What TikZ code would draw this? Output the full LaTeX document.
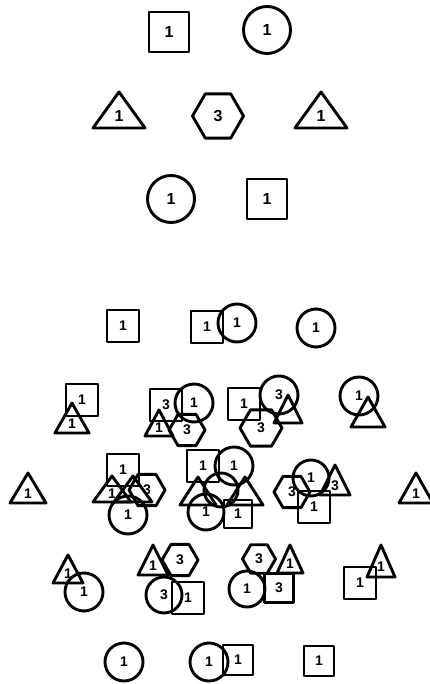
\documentclass[tikz,border=0pt]{standalone}
\usepackage{fontspec}
\setmainfont{Liberation Sans}
\usetikzlibrary{shapes.geometric}
\tikzset{
  ln/.style={line width=2.9pt, line join=round},
  lbl/.style={font=\bfseries\fontsize{14}{14}\selectfont, inner sep=0pt},
  lblT/.style={font=\bfseries\fontsize{16}{16}\selectfont, inner sep=0pt},
  sq/.style={lbl, draw, ln, rectangle, minimum size=32pt},
  ci/.style={lbl, draw, ln, circle, minimum size=38pt},
  hx/.style={lbl, draw, ln, regular polygon, regular polygon sides=6, minimum size=36pt},
  sqT/.style={lblT, draw, ln, rectangle, minimum size=40pt},
  ciT/.style={lblT, draw, ln, circle, minimum size=47pt},
  hxT/.style={lblT, draw, ln, regular polygon, regular polygon sides=6, minimum size=51pt},
}
% name, x, y, half width, half height, label, label style
\newcommand\mytri[7][lbl]{%
  \draw[ln] ({#3-#5},{#4+#6}) -- ({#3},{#4-#6}) -- ({#3+#5},{#4+#6}) -- cycle;
  \node[#1] (#2) at ({#3},{#4+0.35*#6}) {#7};
}
\begin{document}
\begin{tikzpicture}[x=1pt,y=-1pt]
\useasboundingbox (0,0) rectangle (429,684);
% ---- top pattern ----
\node[sqT] (s1) at (169,32) {1};
\node[ciT] (o1) at (267,30) {1};
\mytri[lblT]{t1}{119}{110}{26}{18}{1}
\node[hxT] (h1) at (218,116) {3};
\mytri[lblT]{t2}{321}{110}{26}{18}{1}
\node[ciT] (o2) at (171,199) {1};
\node[sqT] (s2) at (267,199) {1};
% ---- row A ----
\node[sq] (a1) at (123,326) {1};
\node[sq] (a2) at (207,327) {1};
\node[ci] (a3) at (237,323) {1};
\node[ci] (a4) at (316,328) {1};
% ---- row B ----
\node[sq] (b1) at (82,400) {1};
\mytri{b2}{72}{418}{17}{15}{1}
\node[sq] (b3) at (166,405) {3};
\node[ci] (b4) at (194,403) {1};
\mytri{b5}{159}{423}{14}{13}{1}
\node[hx] (b6) at (187,430) {3};
\node[sq] (b7) at (244,404) {1};
\node[ci] (b8) at (279,395) {3};
\mytri{b9}{288}{409}{14}{14}{}
\node[hx,minimum size=42pt] (b10) at (261,428) {3};
\node[ci] (b11) at (359,396) {1};
\mytri{b12}{368}{412}{17}{15}{}
% ---- row C ----
\mytri{c1}{28}{488}{18}{15}{1}
\node[sq] (c2) at (123,470) {1};
\mytri{c3}{112}{489}{19}{13}{1}
\mytri{c4}{133}{489}{19}{13}{}
\node[hx] (c5) at (147,490) {3};
\node[ci] (c6) at (128,515) {1};
\node[sq] (c7) at (203,466) {1};
\node[ci] (c8) at (234,466) {1};
\mytri{c9}{198}{491}{18}{14}{}
\mytri{c10}{245}{491}{18}{14}{}
\node[ci,minimum size=34pt] (c11) at (221,490) {};
\node[ci,minimum size=36pt] (c12) at (206,512) {1};
\node[sq,minimum size=28pt] (c13) at (238,514) {1};
\node[hx] (c14) at (292,492) {3};
\node[ci,minimum size=36pt] (c15) at (311,478) {1};
\mytri{c16}{335}{480}{15}{15}{3}
\node[sq] (c17) at (314,507) {1};
\mytri{c18}{416}{488}{17}{15}{1}
% ---- row D ----
\mytri{d1}{68}{569}{15}{14}{1}
\node[ci] (d2) at (84,592) {1};
\mytri{d3}{153}{560}{15}{15}{1}
\node[hx] (d4) at (180,560) {3};
\node[ci,minimum size=36pt] (d5) at (164,595) {3};
\node[sq] (d6) at (188,598) {1};
\node[hx,minimum size=33pt] (d7) at (259,559) {3};
\mytri{d8}{290}{559}{13}{14}{1}
\node[ci,minimum size=36pt] (d9) at (247,589) {1};
\node[sq,minimum size=29pt] (d10) at (279,588) {3};
\node[sq] (d11) at (360,583) {1};
\mytri{d12}{381}{561}{14}{16}{1}
% ---- row E ----
\node[ci] (e1) at (124,662) {1};
\node[ci] (e2) at (209,662) {1};
\node[sq,minimum size=30pt] (e3) at (238,660) {1};
\node[sq,minimum size=30pt] (e4) at (319,661) {1};
\end{tikzpicture}
\end{document}
